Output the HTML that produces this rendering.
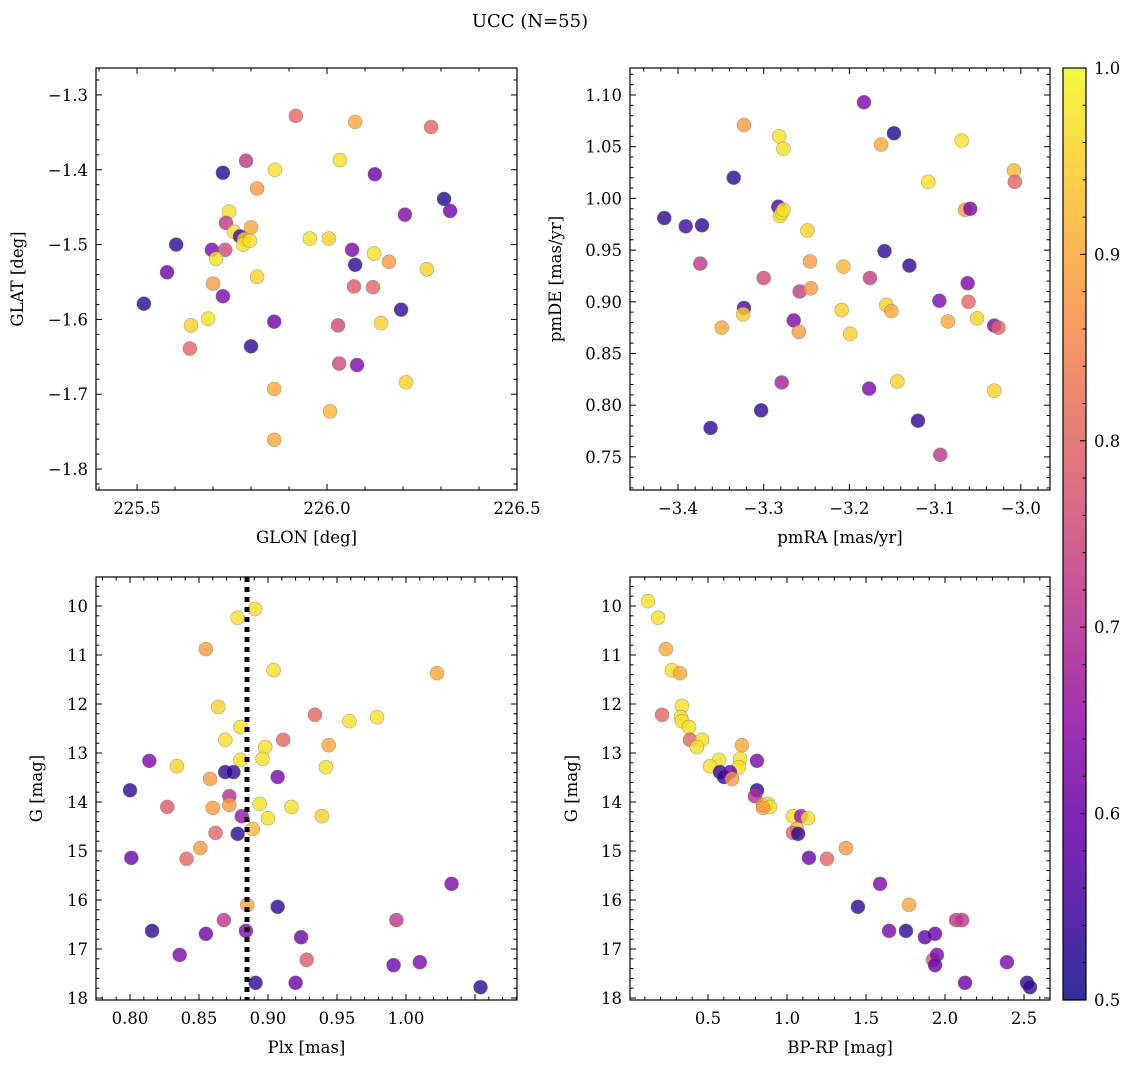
<!DOCTYPE html>
<html><head><meta charset="utf-8">
<style>
body{margin:0;background:#fff;}
svg{display:block;font-family:"DejaVu Serif","Liberation Serif",serif;}
</style></head>
<body>
<svg id="fig" width="1136" height="1067" viewBox="0 0 1136 1067" xmlns="http://www.w3.org/2000/svg">
<text x="530" y="27" font-size="18" text-anchor="middle">UCC (N=55)</text>
</svg>
<script>
// ---- data ----
const tlGLON=[225.918,226.074,226.274,225.787,225.863,226.034,225.726,226.126,225.816,226.308,226.324,225.742,226.205,225.603,225.734,225.755,225.771,225.800,225.782,225.779,225.797,225.955,226.005,225.697,225.732,226.066,226.074,226.124,225.708,226.163,225.579,226.263,225.816,225.700,226.071,226.121,225.726,225.518,226.195,225.687,225.642,225.861,226.029,226.142,225.639,225.800,226.032,226.079,226.208,225.861,226.008,225.861];
const tlGLAT=[-1.328,-1.336,-1.343,-1.388,-1.400,-1.387,-1.404,-1.406,-1.425,-1.439,-1.455,-1.456,-1.460,-1.500,-1.471,-1.483,-1.489,-1.477,-1.493,-1.500,-1.495,-1.492,-1.492,-1.507,-1.507,-1.507,-1.527,-1.512,-1.519,-1.523,-1.537,-1.533,-1.543,-1.552,-1.556,-1.557,-1.569,-1.579,-1.587,-1.599,-1.608,-1.603,-1.608,-1.605,-1.639,-1.636,-1.659,-1.661,-1.684,-1.693,-1.723,-1.761];
const tlProb=[0.8,0.9,0.8,0.72,0.97,0.97,0.52,0.6,0.88,0.52,0.6,0.97,0.62,0.53,0.72,0.97,0.55,0.9,0.95,0.97,0.97,0.97,0.95,0.62,0.75,0.62,0.53,0.97,0.97,0.88,0.6,0.95,0.95,0.88,0.78,0.8,0.62,0.53,0.53,0.97,0.95,0.6,0.75,0.95,0.8,0.53,0.75,0.62,0.95,0.9,0.92,0.9];

const trPMRA=[-3.183,-3.148,-3.323,-3.282,-3.163,-3.069,-3.277,-3.008,-3.007,-3.335,-3.108,-3.416,-3.391,-3.372,-3.283,-3.281,-3.279,-3.277,-3.065,-3.059,-3.249,-3.159,-3.374,-3.246,-3.207,-3.130,-3.300,-3.176,-3.062,-3.258,-3.245,-3.095,-3.061,-3.323,-3.324,-3.209,-3.157,-3.151,-3.265,-3.085,-3.051,-3.349,-3.259,-3.031,-3.026,-3.199,-3.144,-3.279,-3.177,-3.031,-3.303,-3.120,-3.362,-3.094];
const trPMDE=[1.093,1.063,1.071,1.060,1.052,1.056,1.048,1.027,1.016,1.020,1.016,0.981,0.973,0.974,0.992,0.983,0.986,0.989,0.989,0.990,0.969,0.949,0.937,0.939,0.934,0.935,0.923,0.923,0.918,0.910,0.913,0.901,0.900,0.894,0.888,0.892,0.897,0.891,0.882,0.881,0.884,0.875,0.871,0.877,0.875,0.869,0.823,0.822,0.816,0.814,0.795,0.785,0.778,0.752];
const trProb=[0.62,0.52,0.88,0.97,0.9,0.97,0.97,0.92,0.8,0.53,0.97,0.53,0.55,0.53,0.56,0.97,0.97,0.97,0.88,0.62,0.95,0.53,0.72,0.88,0.92,0.53,0.75,0.73,0.62,0.73,0.88,0.62,0.8,0.56,0.95,0.95,0.95,0.9,0.62,0.9,0.95,0.9,0.88,0.62,0.8,0.95,0.95,0.68,0.62,0.95,0.53,0.53,0.53,0.72];

const blPlx=[0.8906,0.878,0.855,0.904,1.0225,0.864,0.934,0.979,0.959,0.880,0.869,0.911,0.898,0.944,0.880,0.896,0.814,0.834,0.942,0.869,0.875,0.858,0.907,0.800,0.872,0.872,0.894,0.917,0.827,0.860,0.939,0.881,0.900,0.889,0.862,0.878,0.851,0.841,0.801,1.033,0.885,0.907,0.868,0.993,0.884,0.816,0.855,0.924,0.928,0.836,1.010,0.991,0.891,0.920,1.054];
const blG=[10.06,10.24,10.88,11.31,11.37,12.06,12.22,12.27,12.35,12.47,12.73,12.73,12.88,12.84,13.14,13.12,13.16,13.27,13.29,13.39,13.39,13.53,13.49,13.76,13.88,14.06,14.04,14.10,14.10,14.12,14.29,14.29,14.33,14.55,14.63,14.65,14.94,15.16,15.14,15.67,16.10,16.14,16.41,16.41,16.63,16.63,16.69,16.76,17.22,17.12,17.27,17.33,17.69,17.69,17.78];
const blProb=[0.97,0.97,0.88,0.97,0.9,0.95,0.8,0.97,0.97,0.97,0.97,0.8,0.97,0.9,0.97,0.97,0.62,0.95,0.97,0.53,0.53,0.88,0.62,0.53,0.7,0.88,0.97,0.97,0.78,0.88,0.95,0.66,0.97,0.92,0.8,0.53,0.88,0.8,0.6,0.62,0.9,0.53,0.72,0.72,0.62,0.53,0.6,0.6,0.78,0.62,0.62,0.6,0.53,0.6,0.53];
const plxLine=0.8848;

const brBPRP=[0.120,0.184,0.234,0.272,0.323,0.209,0.335,0.329,0.335,0.380,0.386,0.462,0.430,0.715,0.810,0.570,0.703,0.513,0.696,0.576,0.601,0.639,0.652,0.810,0.797,0.848,0.880,0.892,0.848,1.038,1.089,1.133,1.063,1.038,1.070,1.373,1.253,1.139,1.589,1.772,1.449,2.070,2.108,1.646,1.753,1.937,1.873,1.924,1.949,1.937,2.392,2.127,2.519,2.538];
const brG=[9.90,10.24,10.88,11.31,11.37,12.22,12.04,12.27,12.35,12.47,12.73,12.73,12.88,12.84,13.16,13.14,13.12,13.27,13.29,13.39,13.49,13.39,13.53,13.76,13.88,14.06,14.04,14.10,14.12,14.29,14.29,14.33,14.55,14.63,14.65,14.94,15.16,15.14,15.67,16.10,16.14,16.41,16.41,16.63,16.63,16.69,16.76,17.22,17.12,17.33,17.27,17.69,17.69,17.78];
const brProb=[0.97,0.97,0.9,0.97,0.9,0.8,0.97,0.97,0.97,0.97,0.8,0.97,0.97,0.9,0.62,0.97,0.97,0.97,0.97,0.53,0.53,0.6,0.88,0.53,0.7,0.88,0.97,0.97,0.88,0.97,0.66,0.97,0.92,0.8,0.53,0.88,0.8,0.6,0.62,0.9,0.53,0.72,0.72,0.62,0.53,0.6,0.58,0.78,0.62,0.6,0.62,0.6,0.53,0.53];

const cbTicks=[0.5,0.6,0.7,0.8,0.9,1.0];

// ---- helpers ----
const NS='http://www.w3.org/2000/svg';
const fig=document.getElementById('fig');
const FS=16.5;
function mk(tag,attrs,parent){const e=document.createElementNS(NS,tag);for(const k in attrs)e.setAttribute(k,attrs[k]);(parent||fig).appendChild(e);return e;}
const stops=[[0,'#0d0887'],[0.1,'#41049d'],[0.2,'#6a00a8'],[0.3,'#8f0da4'],[0.4,'#b12a90'],[0.5,'#cc4778'],[0.6,'#e16462'],[0.7,'#f2844b'],[0.8,'#fca636'],[0.9,'#fcce25'],[1,'#f0f921']];
function hex(h){return [1,3,5].map(i=>parseInt(h.substr(i,2),16));}
function plasma(t){t=Math.max(0,Math.min(1,t));for(let i=1;i<stops.length;i++){if(t<=stops[i][0]){const a=stops[i-1],b=stops[i];const f=(t-a[0])/(b[0]-a[0]);const ca=hex(a[1]),cb=hex(b[1]);return 'rgb('+ca.map((v,j)=>Math.round(v+(cb[j]-v)*f)).join(',')+')';}}return stops[10][1];}
function pcol(p){return plasma((p-0.5)/0.5);}

function panel(o){
  const g=mk('g',{});
  
  
  const sx=v=>o.x0+(v-o.xmin)/(o.xmax-o.xmin)*(o.x1-o.x0);
  const sy=v=>o.inv? o.y0+(v-o.ymin)/(o.ymax-o.ymin)*(o.y1-o.y0) : o.y1-(v-o.ymin)/(o.ymax-o.ymin)*(o.y1-o.y0);
  for(let i=0;i<o.xs.length;i++){
    const c=mk('circle',{cx:sx(o.xs[i]),cy:sy(o.ys[i]),r:7,fill:pcol(o.ps[i]),'fill-opacity':0.8,stroke:'#777','stroke-width':0.6,'stroke-opacity':0.6},g);
    
    
  }
  if(o.extra)o.extra(g,sx,sy);
  const fr=mk('rect',{x:o.x0,y:o.y0,width:o.x1-o.x0,height:o.y1-o.y0,fill:'none',stroke:'#000','stroke-width':1.2},g);
  
  
  const eps=1e-9;
  for(let v=Math.ceil(o.xmin/o.xminor-eps)*o.xminor;v<=o.xmax+eps;v+=o.xminor){
    const px=sx(v);const major=Math.abs(v/o.xmajor-Math.round(v/o.xmajor))<1e-4;const L=major?6:3.5;
    mk('line',{x1:px,x2:px,y1:o.y1,y2:o.y1-L,stroke:'#000','stroke-width':1},g);
    mk('line',{x1:px,x2:px,y1:o.y0,y2:o.y0+L,stroke:'#000','stroke-width':1},g);
  }
  o.xt.forEach(v=>{const t=mk('text',{x:sx(v),y:o.y1+24,'font-size':FS,'text-anchor':'middle'},g);t.textContent=o.xfmt(v);
    
    });
  for(let v=Math.ceil(o.ymin/o.yminor-eps)*o.yminor;v<=o.ymax+eps;v+=o.yminor){
    const py=sy(v);const major=Math.abs(v/o.ymajor-Math.round(v/o.ymajor))<1e-4;const L=major?6:3.5;
    mk('line',{x1:o.x0,x2:o.x0+L,y1:py,y2:py,stroke:'#000','stroke-width':1},g);
    mk('line',{x1:o.x1,x2:o.x1-L,y1:py,y2:py,stroke:'#000','stroke-width':1},g);
  }
  o.yt.forEach(v=>{const t=mk('text',{x:o.x0-8,y:sy(v)+6,'font-size':FS,'text-anchor':'end'},g);t.textContent=o.yfmt(v);
    
    });
  const xl=mk('text',{x:(o.x0+o.x1)/2,y:o.y1+53,'font-size':FS,'text-anchor':'middle'},g);xl.textContent=o.xlab;
  
  
  const yx=o.ylx,yy=(o.y0+o.y1)/2;
  const yl=mk('text',{x:yx,y:yy,'font-size':FS,'text-anchor':'middle',transform:`rotate(-90 ${yx} ${yy})`},g);yl.textContent=o.ylab;
  
  
}
const mn=v=>(v<0?'\u2212':'')+Math.abs(v);
panel({name:'glon-glat-panel',x0:96,x1:517,y0:68,y1:490,xmin:225.392,xmax:226.500,ymin:-1.828,ymax:-1.264,
  xs:tlGLON,ys:tlGLAT,ps:tlProb,xmajor:0.5,xminor:0.1,ymajor:0.1,yminor:0.02,
  xt:[225.5,226.0,226.5],xfmt:v=>v.toFixed(1),yt:[-1.8,-1.7,-1.6,-1.5,-1.4,-1.3],yfmt:v=>mn(+v.toFixed(1)),
  xlab:'GLON [deg]',ylab:'GLAT [deg]',ylx:23});
panel({name:'pm-panel',x0:630,x1:1050,y0:68,y1:490,xmin:-3.4-48/857,xmax:-3.4+372/857,ymin:1.10-395/1034,ymax:1.10+27/1034,
  xs:trPMRA,ys:trPMDE,ps:trProb,xmajor:0.1,xminor:0.02,ymajor:0.05,yminor:0.01,
  xt:[-3.4,-3.3,-3.2,-3.1,-3.0],xfmt:v=>mn(+v.toFixed(1)).replace(/^(\u2212?\d)$/,'$1.0'),yt:[0.75,0.8,0.85,0.9,0.95,1.0,1.05,1.1],yfmt:v=>v.toFixed(2),
  xlab:'pmRA [mas/yr]',ylab:'pmDE [mas/yr]',ylx:561});
panel({name:'plx-g-panel',x0:96,x1:517,y0:577,y1:1000,xmin:0.80-34/1380,xmax:0.80+387/1380,ymin:10-29/49,ymax:10+394/49,inv:true,
  xs:blPlx,ys:blG,ps:blProb,xmajor:0.05,xminor:0.01,ymajor:1,yminor:0.2,
  xt:[0.8,0.85,0.9,0.95,1.0],xfmt:v=>v.toFixed(2),yt:[10,11,12,13,14,15,16,17,18],yfmt:v=>''+v,
  xlab:'Plx [mas]',ylab:'G [mag]',ylx:42,
  extra:(g,sx,sy)=>{const l=mk('line',{x1:sx(plxLine),x2:sx(plxLine),y1:577,y2:1000,stroke:'#000','stroke-width':5,'stroke-dasharray':'5,5'},g);
    
    }});
panel({name:'cmd-panel',x0:630,x1:1050,y0:577,y1:1000,xmin:0.5-78/158,xmax:0.5+342/158,ymin:10-29/49,ymax:10+394/49,inv:true,
  xs:brBPRP,ys:brG,ps:brProb,xmajor:0.5,xminor:0.1,ymajor:1,yminor:0.2,
  xt:[0.5,1.0,1.5,2.0,2.5],xfmt:v=>v.toFixed(1),yt:[10,11,12,13,14,15,16,17,18],yfmt:v=>''+v,
  xlab:'BP-RP [mag]',ylab:'G [mag]',ylx:577});

const cb=mk('g',{});


const defs=mk('defs',{},cb);
const lg=mk('linearGradient',{id:'cbg',x1:0,y1:1,x2:0,y2:0},defs);
for(let i=0;i<=20;i++){mk('stop',{offset:i/20,'stop-color':plasma(i/20),'stop-opacity':0.85},lg);}
const cx0=1063,cx1=1086,cy0=68,cy1=1000;
mk('rect',{x:cx0,y:cy0,width:cx1-cx0,height:cy1-cy0,fill:'url(#cbg)',stroke:'#000','stroke-width':1.2},cb);
const csy=v=>cy1-(v-0.5)/0.5*(cy1-cy0);
for(let k=0;k<=25;k++){const v=0.5+k*0.02;const major=k%5===0;
  mk('line',{x1:cx1,x2:cx1-(major?6:3.5),y1:csy(v),y2:csy(v),stroke:'#000','stroke-width':1},cb);}
cbTicks.forEach(v=>{const t=mk('text',{x:cx1+8,y:csy(v)+6,'font-size':FS},cb);t.textContent=v.toFixed(1);
  
  });
</script>
</body></html>
